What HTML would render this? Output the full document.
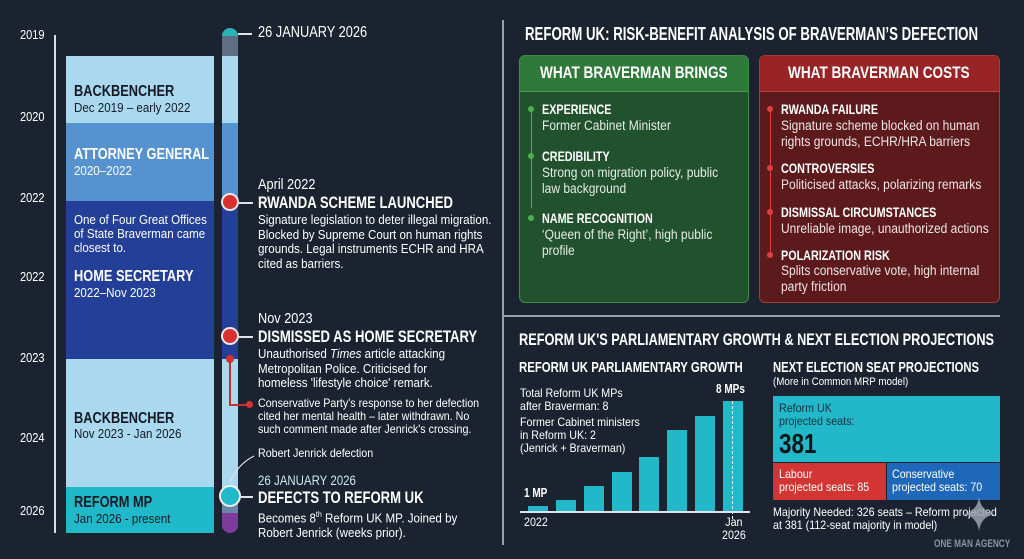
<!DOCTYPE html>
<html><head><meta charset="utf-8"><style>
*{margin:0;padding:0;box-sizing:border-box}
body{width:1024px;height:559px;background:#1b2330;position:relative;overflow:hidden;font-family:"Liberation Sans",sans-serif;color:#fff}
.t{position:absolute;white-space:nowrap;transform:scaleX(.89);transform-origin:0 0;line-height:1.15}
.b{font-weight:bold;transform:scaleX(.77)}
.a{position:absolute}
.yr{position:absolute;left:20px;font-size:13px;color:#fff;transform:scaleX(.85);transform-origin:0 0}
</style></head><body>
<div class="a" style="left:502px;top:20px;width:2px;height:525px;background:#9aa3ad"></div>
<div class="a" style="left:503px;top:315px;width:497px;height:2px;background:#9aa3ad"></div>

<div class="a" style="left:54px;top:35px;width:2px;height:498px;background:#d8dde3"></div>
<div class="yr" style="top:27px">2019</div>
<div class="yr" style="top:109px">2020</div>
<div class="yr" style="top:190px">2022</div>
<div class="yr" style="top:269px">2022</div>
<div class="yr" style="top:350px">2023</div>
<div class="yr" style="top:430px">2024</div>
<div class="yr" style="top:503px">2026</div>

<div class="a" style="left:66px;top:56px;width:148px;height:67px;background:#a9d8ef"></div>
<div class="a" style="left:66px;top:123px;width:148px;height:78px;background:#5592cf"></div>
<div class="a" style="left:66px;top:201px;width:148px;height:158px;background:#233f98"></div>
<div class="a" style="left:66px;top:359px;width:148px;height:128px;background:#a9d8ef"></div>
<div class="a" style="left:66px;top:487px;width:148px;height:46px;background:#20b9ca"></div>
<div class="t b" style="left:74px;top:83px;font-size:16px;color:#141a24;transform:scaleX(.8)">BACKBENCHER</div>
<div class="t" style="left:74px;top:101px;font-size:13px;color:#141a24">Dec 2019 – early 2022</div>
<div class="t b" style="left:74px;top:146px;font-size:16px;transform:scaleX(.8)">ATTORNEY GENERAL</div>
<div class="t" style="left:74px;top:164px;font-size:13px">2020–2022</div>
<div class="t" style="left:74px;top:213px;font-size:13px;line-height:14px">One of Four Great Offices<br>of State Braverman came<br>closest to.</div>
<div class="t b" style="left:74px;top:268px;font-size:16px;transform:scaleX(.8)">HOME SECRETARY</div>
<div class="t" style="left:74px;top:286px;font-size:13px">2022–Nov 2023</div>
<div class="t b" style="left:74px;top:410px;font-size:16px;color:#141a24;transform:scaleX(.8)">BACKBENCHER</div>
<div class="t" style="left:74px;top:427px;font-size:13px;color:#141a24">Nov 2023 - Jan 2026</div>
<div class="t b" style="left:74px;top:494px;font-size:16px;color:#141a24;transform:scaleX(.8)">REFORM MP</div>
<div class="t" style="left:74px;top:512px;font-size:13px;color:#141a24">Jan 2026 - present</div>

<div class="a" style="left:222px;top:28px;width:16px;height:505px;border-radius:8px;overflow:hidden;background:#5e6f85">
 <div class="a" style="left:0;top:0;width:16px;height:8px;background:#2ab2b5"></div>
 <div class="a" style="left:0;top:28px;width:16px;height:95px;background:#a9d8ef"></div>
 <div class="a" style="left:0;top:95px;width:16px;height:78px;background:#5592cf"></div>
 <div class="a" style="left:0;top:173px;width:16px;height:158px;background:#233f98"></div>
 <div class="a" style="left:0;top:331px;width:16px;height:165px;background:#a9d8ef"></div>
 <div class="a" style="left:0;top:465px;width:16px;height:20px;background:#6a86a8"></div>
 <div class="a" style="left:0;top:485px;width:16px;height:25px;background:#7d3b9a"></div>
</div>
<div class="a" style="left:238px;top:33px;width:14px;height:2px;background:#dfe3e8"></div>
<div class="t" style="left:258px;top:24px;font-size:16px;transform:scaleX(.8)">26 JANUARY 2026</div>

<div class="a" style="left:221px;top:193px;width:18px;height:18px;border-radius:50%;background:#d93030;border:2px solid #e8e8e8"></div>
<div class="a" style="left:239px;top:202px;width:14px;height:2px;background:#dfe3e8"></div>
<div class="t" style="left:258px;top:176px;font-size:15px;transform:scaleX(.85)">April 2022</div>
<div class="t b" style="left:258px;top:193px;font-size:17px">RWANDA SCHEME LAUNCHED</div>
<div class="t" style="left:258px;top:213px;font-size:13px;line-height:14.5px">Signature legislation to deter illegal migration.<br>Blocked by Supreme Court on human rights<br>grounds. Legal instruments ECHR and HRA<br>cited as barriers.</div>

<div class="a" style="left:221px;top:327px;width:18px;height:18px;border-radius:50%;background:#d93030;border:2px solid #e8e8e8"></div>
<div class="a" style="left:239px;top:336px;width:14px;height:2px;background:#dfe3e8"></div>
<div class="t" style="left:258px;top:310px;font-size:15px;transform:scaleX(.85)">Nov 2023</div>
<div class="t b" style="left:258px;top:327px;font-size:17px">DISMISSED AS HOME SECRETARY</div>
<div class="t" style="left:258px;top:347px;font-size:13px;line-height:14.5px">Unauthorised <i>Times</i> article attacking<br>Metropolitan Police. Criticised for<br>homeless 'lifestyle choice' remark.</div>
<div class="a" style="left:226px;top:355px;width:8px;height:8px;border-radius:50%;background:#d93030"></div>
<div class="a" style="left:229px;top:360px;width:2px;height:45px;background:#c43030"></div>
<div class="a" style="left:229px;top:404px;width:20px;height:2px;background:#c43030"></div>
<div class="a" style="left:246px;top:401px;width:7px;height:7px;border-radius:50%;background:#d93030"></div>
<div class="t" style="left:258px;top:397px;font-size:12px;line-height:13px">Conservative Party's response to her defection<br>cited her mental health – later withdrawn. No<br>such comment made after Jenrick's crossing.</div>

<div class="t" style="left:258px;top:447px;font-size:12px">Robert Jenrick defection</div>
<svg class="a" style="left:228px;top:452px" width="30" height="32"><path d="M2 30 Q10 12 26 4" stroke="#e0e4ea" stroke-width="1.2" fill="none"/></svg>

<div class="a" style="left:219px;top:485px;width:22px;height:22px;border-radius:50%;background:#20b9ca;border:2.5px solid #f0f0f0"></div>
<div class="a" style="left:241px;top:496px;width:12px;height:2px;background:#dfe3e8"></div>
<div class="t" style="left:258px;top:472px;font-size:14px;color:#c8e6f0;transform:scaleX(.82)">26 JANUARY 2026</div>
<div class="t b" style="left:258px;top:488px;font-size:17px">DEFECTS TO REFORM UK</div>
<div class="t" style="left:258px;top:508px;font-size:13px;line-height:14.5px">Becomes 8<sup style="font-size:8px">th</sup> Reform UK MP. Joined by<br>Robert Jenrick (weeks prior).</div>

<div class="t b" style="left:525px;top:24px;font-size:18px;transform:scaleX(.735)">REFORM UK: RISK-BENEFIT ANALYSIS OF BRAVERMAN’S DEFECTION</div>
<div class="a" style="left:519px;top:55px;width:230px;height:248px;border-radius:6px;background:#22512e;border:1px solid #3e8a48;overflow:hidden">
 <div style="height:36px;background:#2f7a3a;border-bottom:1px solid #4a9a55"></div>
</div>
<div class="a" style="left:759px;top:55px;width:241px;height:248px;border-radius:6px;background:#5c1a1d;border:1px solid #a83a3a;overflow:hidden">
 <div style="height:36px;background:#992426;border-bottom:1px solid #b84040"></div>
</div>
<div class="t b" style="left:540px;top:63px;font-size:17px;transform:scaleX(.8)">WHAT BRAVERMAN BRINGS</div>
<div class="t b" style="left:788px;top:63px;font-size:17px;transform:scaleX(.8)">WHAT BRAVERMAN COSTS</div>
<div class="a" style="left:531px;top:108px;width:1px;height:100px;background:#4caf50"></div>
<div class="a" style="left:528px;top:106px;width:6px;height:6px;border-radius:50%;background:#4caf50"></div>
<div class="a" style="left:528px;top:153px;width:6px;height:6px;border-radius:50%;background:#4caf50"></div>
<div class="a" style="left:528px;top:215px;width:6px;height:6px;border-radius:50%;background:#4caf50"></div>
<div class="t b" style="left:542px;top:101px;font-size:14px">EXPERIENCE</div>
<div class="t" style="left:542px;top:118px;font-size:13.5px;color:#e4ece4">Former Cabinet Minister</div>
<div class="t b" style="left:542px;top:148px;font-size:14px">CREDIBILITY</div>
<div class="t" style="left:542px;top:165px;font-size:13.5px;line-height:15.5px;color:#e4ece4">Strong on migration policy, public<br>law background</div>
<div class="t b" style="left:542px;top:210px;font-size:14px">NAME RECOGNITION</div>
<div class="t" style="left:542px;top:227px;font-size:13.5px;line-height:15.5px;color:#e4ece4">‘Queen of the Right’, high public<br>profile</div>

<div class="a" style="left:770px;top:108px;width:1px;height:150px;background:#e04040"></div>
<div class="a" style="left:767px;top:106px;width:6px;height:6px;border-radius:50%;background:#e04040"></div>
<div class="a" style="left:767px;top:165px;width:6px;height:6px;border-radius:50%;background:#e04040"></div>
<div class="a" style="left:767px;top:209px;width:6px;height:6px;border-radius:50%;background:#e04040"></div>
<div class="a" style="left:767px;top:252px;width:6px;height:6px;border-radius:50%;background:#e04040"></div>
<div class="t b" style="left:781px;top:101px;font-size:14px">RWANDA FAILURE</div>
<div class="t" style="left:781px;top:118px;font-size:13.5px;line-height:15.5px;color:#f0e4e4">Signature scheme blocked on human<br>rights grounds, ECHR/HRA barriers</div>
<div class="t b" style="left:781px;top:160px;font-size:14px">CONTROVERSIES</div>
<div class="t" style="left:781px;top:177px;font-size:13.5px;color:#f0e4e4">Politicised attacks, polarizing remarks</div>
<div class="t b" style="left:781px;top:204px;font-size:14px">DISMISSAL CIRCUMSTANCES</div>
<div class="t" style="left:781px;top:221px;font-size:13.5px;color:#f0e4e4">Unreliable image, unauthorized actions</div>
<div class="t b" style="left:781px;top:247px;font-size:14px">POLARIZATION RISK</div>
<div class="t" style="left:781px;top:263px;font-size:13.5px;line-height:15.5px;color:#f0e4e4">Splits conservative vote, high internal<br>party friction</div>

<div class="t b" style="left:519px;top:330px;font-size:17px;transform:scaleX(.75)">REFORM UK'S PARLIAMENTARY GROWTH &amp; NEXT ELECTION PROJECTIONS</div>
<div class="t b" style="left:519px;top:359px;font-size:15px;transform:scaleX(.76)">REFORM UK PARLIAMENTARY GROWTH</div>
<div class="t b" style="left:773px;top:359px;font-size:15px;transform:scaleX(.75)">NEXT ELECTION SEAT PROJECTIONS</div>
<div class="t" style="left:773px;top:376px;font-size:11px">(More in Common MRP model)</div>
<div class="t" style="left:520px;top:387px;font-size:12px;line-height:13px">Total Reform UK MPs<br>after Braverman: 8</div>
<div class="t" style="left:520px;top:416px;font-size:12px;line-height:13px">Former Cabinet ministers<br>in Reform UK: 2<br>(Jenrick + Braverman)</div>
<div class="a" style="left:528px;top:506px;width:20px;height:6px;background:#22b8c9"></div>
<div class="a" style="left:556px;top:500px;width:20px;height:12px;background:#22b8c9"></div>
<div class="a" style="left:584px;top:486px;width:20px;height:26px;background:#22b8c9"></div>
<div class="a" style="left:612px;top:472px;width:20px;height:40px;background:#22b8c9"></div>
<div class="a" style="left:639px;top:457px;width:20px;height:55px;background:#22b8c9"></div>
<div class="a" style="left:667px;top:430px;width:20px;height:82px;background:#22b8c9"></div>
<div class="a" style="left:695px;top:416px;width:20px;height:96px;background:#22b8c9"></div>
<div class="a" style="left:723px;top:401px;width:20px;height:111px;background:#22b8c9"></div>
<div class="a" style="left:732px;top:401px;width:0;height:118px;border-left:1px dashed #e8f4f8"></div>
<div class="a" style="left:520px;top:511px;width:230px;height:2px;background:#e0e4ea"></div>
<div class="t b" style="left:524px;top:486px;font-size:13px">1 MP</div>
<div class="t b" style="left:716px;top:382px;font-size:13px">8 MPs</div>
<div class="t" style="left:524px;top:516px;font-size:12px">2022</div>
<div class="t" style="left:722px;top:516px;font-size:12px;line-height:13px;text-align:center">Jan<br>2026</div>

<div class="a" style="left:773px;top:396px;width:227px;height:66px;background:#22b8c9"></div>
<div class="t" style="left:779px;top:402px;font-size:12px;line-height:13px;color:#15303a">Reform UK<br>projected seats:</div>
<div class="t b" style="left:779px;top:428px;font-size:28px;color:#0c1418;transform:scaleX(.8)">381</div>
<div class="a" style="left:773px;top:463px;width:113px;height:37px;background:#d33534"></div>
<div class="a" style="left:887px;top:463px;width:113px;height:37px;background:#1f67b8"></div>
<div class="t" style="left:779px;top:468px;font-size:12px;line-height:13px">Labour<br>projected seats: 85</div>
<div class="t" style="left:892px;top:468px;font-size:12px;line-height:13px">Conservative<br>projected seats: 70</div>
<div class="t" style="left:773px;top:506px;font-size:12px;line-height:13px">Majority Needed: 326 seats – Reform projected<br>at 381 (112-seat majority in model)</div>
<svg class="a" style="left:964px;top:497px" width="30" height="34"><path d="M15 0 Q17 14 30 17 Q17 20 15 34 Q13 20 0 17 Q13 14 15 0Z" fill="#9aa2ad" opacity=".85"/></svg>
<div class="t b" style="left:934px;top:538px;font-size:11px;color:#8c949e;transform:scaleX(.75)">ONE MAN AGENCY</div>
</body></html>
